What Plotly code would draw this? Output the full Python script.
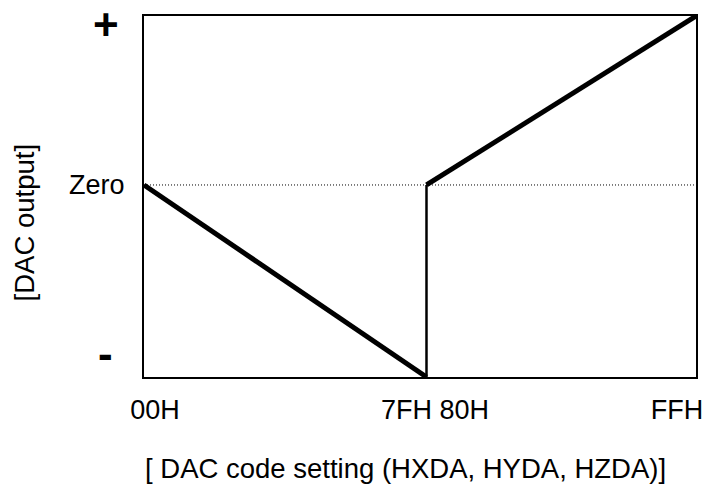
import plotly.graph_objects as go

# DAC code (0x00..0xFF) and normalised DAC output
fall_code = [0, 130.5]
fall_output = [0.0, -1.0]
jump_code = [130.5, 130.5]
jump_output = [-1.0, 0.0]
rise_code = [130.5, 255]
rise_output = [0.0, 0.88]
zero_code = [0, 255]
zero_output = [0.0, 0.0]

x_tick_labels = ["00H", "7FH 80H", "FFH"]
y_tick_labels = ["Zero"]

FONT = "Liberation Sans, Arial, sans-serif"

fig = go.Figure()
fig.add_trace(go.Scatter(x=zero_code, y=zero_output, mode="lines",
                         line=dict(color="black", width=1, dash="1px,2px"),
                         hoverinfo="skip", cliponaxis=False))
fig.add_trace(go.Scatter(x=fall_code, y=fall_output, mode="lines",
                         line=dict(color="black", width=5), cliponaxis=False))
fig.add_trace(go.Scatter(x=jump_code, y=jump_output, mode="lines",
                         line=dict(color="black", width=2.5), cliponaxis=False))
fig.add_trace(go.Scatter(x=rise_code, y=rise_output, mode="lines",
                         line=dict(color="black", width=5), cliponaxis=False))

fig.update_layout(
    template="none",
    width=707, height=486, autosize=False,
    margin=dict(l=144, r=11, t=16, b=109, autoexpand=False),
    paper_bgcolor="white", plot_bgcolor="white",
    showlegend=False,
    font=dict(family=FONT, size=27, color="black"),
    xaxis=dict(range=[0, 255], showgrid=False, zeroline=False, automargin=False,
               showline=True, mirror=True, linecolor="black", linewidth=2,
               tickmode="array", tickvals=[5.1, 134.4, 246.2],
               ticktext=x_tick_labels, ticks="", ticklabelstandoff=8,
               tickfont=dict(family=FONT, size=27, color="black")),
    yaxis=dict(range=[-1.0, 0.88], showgrid=False, zeroline=False, automargin=False,
               showline=True, mirror=True, linecolor="black", linewidth=2,
               tickmode="array", tickvals=[0.0], ticktext=y_tick_labels,
               ticks="", ticklabelstandoff=12,
               tickfont=dict(family=FONT, size=27, color="black")),
    annotations=[
        dict(text="<b>+</b>", x=0, xref="paper", y=0.838, yref="y",
             xanchor="center", yanchor="middle", xshift=-38, showarrow=False,
             font=dict(family=FONT, size=44, color="black")),
        dict(text="<b>-</b>", x=0, xref="paper", y=-0.891, yref="y",
             xanchor="center", yanchor="middle", xshift=-39, yshift=3,
             showarrow=False, font=dict(family=FONT, size=44, color="black")),
        dict(text="[DAC output]", x=0, xref="paper", y=-0.20, yref="y",
             xanchor="center", yanchor="middle", xshift=-120, textangle=-90,
             showarrow=False, font=dict(family=FONT, size=27.5, color="black")),
        dict(text="[ DAC code setting (HXDA, HYDA, HZDA)]", x=121, xref="x",
             y=0, yref="paper", xanchor="center", yanchor="middle", yshift=-91,
             showarrow=False, font=dict(family=FONT, size=27.5, color="black")),
    ],
)

post = ("document.documentElement.style.overflow='hidden';"
        "document.body.style.margin='0px';document.body.style.padding='0px';"
        "document.body.style.overflow='hidden';"
        "Plotly.relayout('{plot_id}', {width: 707, height: 486});")

fig.write_html("out.html", config={"displayModeBar": False, "responsive": False},
               post_script=post)
